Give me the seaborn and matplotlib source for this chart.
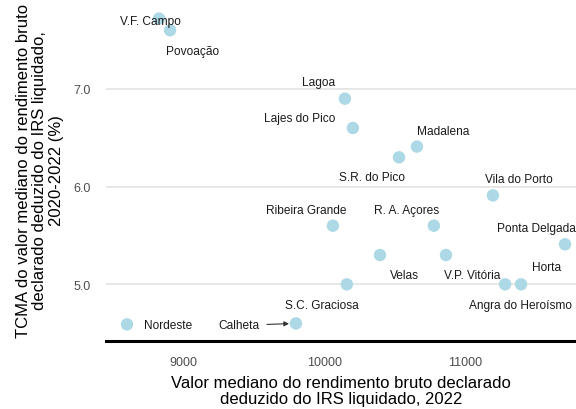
import matplotlib
matplotlib.use("Agg")
import matplotlib.pyplot as plt
import seaborn as sns
import pandas as pd

municipios = ["V.F. Campo", "Povoação", "Lagoa", "Lajes do Pico", "Madalena",
              "S.R. do Pico", "Vila do Porto", "Ribeira Grande", "R. A. Açores",
              "Ponta Delgada", "Velas", "V.P. Vitória", "Angra do Heroísmo",
              "Horta", "S.C. Graciosa", "Calheta", "Nordeste"]
rendimento_2022 = [8828, 8906, 10146, 10203, 10657, 10530, 11196, 10061, 10777,
                   11707, 10395, 10863, 11282, 11395, 10160, 9799, 8601]
tcma_2020_2022 = [7.72, 7.60, 6.90, 6.60, 6.41, 6.30, 5.91, 5.60, 5.60,
                  5.41, 5.30, 5.30, 5.00, 5.00, 5.00, 4.60, 4.59]
x_ticks = [9000, 10000, 11000]
y_ticks = [5.0, 6.0, 7.0]

# label offsets in pixels (dx, dy), dy positive upward
label_offsets = {
    "V.F. Campo": (-9, -2), "Povoação": (23, -21), "Lagoa": (-26, 17),
    "Lajes do Pico": (-53, 10), "Madalena": (26, 16), "S.R. do Pico": (-27, -20),
    "Vila do Porto": (26, 16), "Ribeira Grande": (-27, 16), "R. A. Açores": (-27, 16),
    "Ponta Delgada": (-29, 16), "Velas": (24, -20), "V.P. Vitória": (26, -20),
    "Angra do Heroísmo": (15, -21), "Horta": (26, 17), "S.C. Graciosa": (-25, -21),
    "Calheta": (-57, -2), "Nordeste": (41, -1),
}

df = pd.DataFrame({"municipio": municipios, "x": rendimento_2022, "y": tcma_2020_2022})

sns.set_style("white")
plt.rcParams["font.family"] = ["Liberation Sans", "DejaVu Sans"]

fig = plt.figure(figsize=(5.76, 4.10), dpi=100)
ax = fig.add_axes([106/576, 68/410, 470/576, 342/410])

sns.scatterplot(data=df, x="x", y="y", ax=ax, color="#ADD8E6", s=80,
                edgecolor="none", zorder=3)

for name, xv, yv in zip(municipios, rendimento_2022, tcma_2020_2022):
    dx, dy = label_offsets[name]
    if name == "Calheta":
        ax.annotate(name, (xv, yv), xytext=(dx, dy), textcoords="offset pixels",
                    ha="center", va="center", fontsize=8.6, color="#1a1a1a", zorder=4,
                    arrowprops=dict(arrowstyle="-|>", color="#333333", lw=0.8,
                                    mutation_scale=7, shrinkA=3, shrinkB=5))
    else:
        ax.annotate(name, (xv, yv), xytext=(dx, dy), textcoords="offset pixels",
                    ha="center", va="center", fontsize=8.6, color="#1a1a1a", zorder=4)

ax.set_xlim(8452, 11785)
ax.set_ylim(4.42, 7.92)
ax.set_xticks(x_ticks)
ax.set_yticks(y_ticks)
ax.set_yticklabels([f"{v:.1f}" for v in y_ticks])
ax.grid(axis="y", color="#E3E3E3", lw=1.2)
ax.grid(axis="x", visible=False)
ax.set_axisbelow(True)
for side in ["top", "right", "left"]:
    ax.spines[side].set_visible(False)
ax.spines["bottom"].set_color("black")
ax.spines["bottom"].set_linewidth(2.2)
ax.tick_params(axis="both", length=0, labelsize=9, labelcolor="#4D4D4D")
ax.tick_params(axis="x", pad=11)
ax.tick_params(axis="y", pad=11)

ax.set_xlabel("Valor mediano do rendimento bruto declarado\ndeduzido do IRS liquidado, 2022",
              fontsize=12, color="black", labelpad=5, linespacing=1.1)
ax.set_ylabel("TCMA do valor mediano do rendimento bruto\ndeclarado deduzido do IRS liquidado,\n2020-2022 (%)",
              fontsize=12, color="black", labelpad=7, linespacing=1.1)

fig.savefig("out.png", dpi=100)
